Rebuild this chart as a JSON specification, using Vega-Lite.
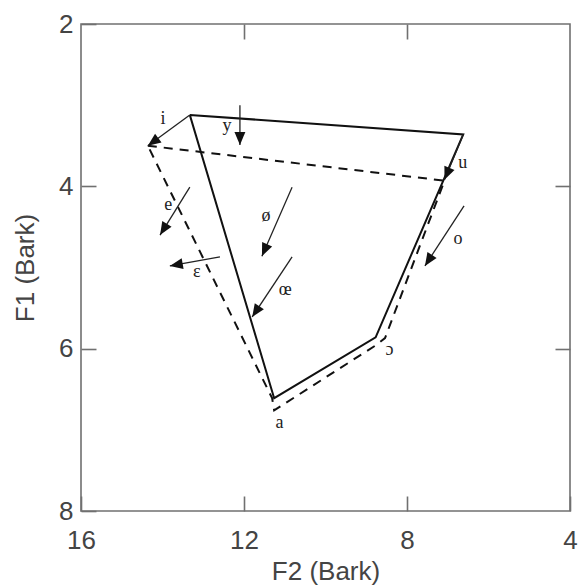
{
  "$schema": "https://vega.github.io/schema/vega-lite/v6.json",
  "width": 489,
  "height": 487,
  "autosize": "none",
  "padding": {"left": 81, "top": 24, "right": 9, "bottom": 76},
  "background": "white",
  "config": {
    "view": {"stroke": "#707070", "strokeWidth": 1.6},
    "axis": {
      "domain": false,
      "grid": false,
      "ticks": true,
      "tickSize": -15,
      "tickColor": "#707070",
      "tickWidth": 1.6,
      "labelFont": "Liberation Sans",
      "labelFontSize": 26,
      "labelColor": "#444444",
      "labelFlush": false,
      "labelOverlap": false,
      "labelBound": false,
      "titleFont": "Liberation Sans",
      "titleFontSize": 26,
      "titleFontWeight": "normal",
      "titleColor": "#444444"
    }
  },
  "datasets": {
    "solid": [
      {"F2": 13.33, "F1": 3.12, "o": 1},
      {"F2": 6.62, "F1": 3.36, "o": 2},
      {"F2": 8.77, "F1": 5.86, "o": 3},
      {"F2": 11.26, "F1": 6.61, "o": 4},
      {"F2": 13.33, "F1": 3.12, "o": 5}
    ],
    "dashed": [
      {"F2": 14.36, "F1": 3.50, "o": 1},
      {"F2": 7.08, "F1": 3.93, "o": 2},
      {"F2": 8.54, "F1": 5.87, "o": 3},
      {"F2": 8.74, "F1": 5.95, "o": 4},
      {"F2": 11.26, "F1": 6.76, "o": 5},
      {"F2": 11.31, "F1": 6.61, "o": 6},
      {"F2": 14.36, "F1": 3.50, "o": 7}
    ],
    "arrows": [
      {"v": "i", "F2s": 13.33, "F1s": 3.12, "F2e": 14.36, "F1e": 3.50},
      {"v": "y", "F2s": 12.10, "F1s": 3.00, "F2e": 12.10, "F1e": 3.49},
      {"v": "u", "F2s": 6.62, "F1s": 3.36, "F2e": 7.08, "F1e": 3.92},
      {"v": "e", "F2s": 13.33, "F1s": 4.01, "F2e": 14.06, "F1e": 4.60},
      {"v": "ε", "F2s": 12.59, "F1s": 4.87, "F2e": 13.82, "F1e": 4.98},
      {"v": "ø", "F2s": 10.82, "F1s": 4.01, "F2e": 11.56, "F1e": 4.86},
      {"v": "œ", "F2s": 10.82, "F1s": 4.87, "F2e": 11.80, "F1e": 5.61},
      {"v": "o", "F2s": 6.60, "F1s": 4.24, "F2e": 7.56, "F1e": 4.98}
    ],
    "labels": [
      {"v": "i", "F2": 13.99, "F1": 3.17},
      {"v": "y", "F2": 12.42, "F1": 3.26},
      {"v": "u", "F2": 6.63, "F1": 3.71},
      {"v": "e", "F2": 13.86, "F1": 4.23},
      {"v": "ε", "F2": 13.16, "F1": 5.05},
      {"v": "ø", "F2": 11.46, "F1": 4.37},
      {"v": "œ", "F2": 10.99, "F1": 5.28},
      {"v": "o", "F2": 6.75, "F1": 4.65},
      {"v": "a", "F2": 11.13, "F1": 6.92},
      {"v": "ɔ", "F2": 8.43, "F1": 6.02}
    ]
  },
  "layer": [
    {
      "data": {"name": "solid"},
      "mark": {"type": "line", "color": "#111111", "strokeWidth": 2},
      "encoding": {
        "x": {"field": "F2", "type": "quantitative", "scale": {"domain": [4, 16], "reverse": true, "nice": false, "zero": false},
              "axis": {"orient": "bottom", "values": [16, 12, 8, 4], "labelPadding": 31, "title": "F2 (Bark)", "titlePadding": 5}},
        "y": {"field": "F1", "type": "quantitative", "scale": {"domain": [2, 8], "reverse": true, "nice": false, "zero": false},
              "axis": {"orient": "left", "values": [2, 4, 6, 8], "labelPadding": 23, "title": "F1 (Bark)", "titlePadding": 20}},
        "order": {"field": "o", "type": "quantitative"}
      }
    },
    {
      "data": {"name": "dashed"},
      "mark": {"type": "line", "color": "#111111", "strokeWidth": 2, "strokeDash": [9, 7]},
      "encoding": {
        "x": {"field": "F2", "type": "quantitative",
              "axis": {"orient": "top", "values": [12, 8], "labels": false, "title": null}},
        "y": {"field": "F1", "type": "quantitative",
              "axis": {"orient": "right", "values": [4, 6], "labels": false, "title": null}},
        "order": {"field": "o", "type": "quantitative"}
      }
    },
    {
      "data": {"name": "arrows"},
      "mark": {"type": "rule", "color": "#222222", "strokeWidth": 1.3},
      "encoding": {
        "x": {"field": "F2s", "type": "quantitative", "axis": null},
        "y": {"field": "F1s", "type": "quantitative", "axis": null},
        "x2": {"field": "F2e"},
        "y2": {"field": "F1e"}
      }
    },
    {
      "data": {"name": "arrows"},
      "transform": [
        {"calculate": "(atan2((datum.F2s - datum.F2e) * 40.75, -(datum.F1e - datum.F1s) * 81.17) * 180 / PI + 360) % 360", "as": "ang"}
      ],
      "mark": {"type": "point", "shape": "M0,0 L-0.42,1 L0.42,1 Z", "filled": true, "color": "#111111", "opacity": 1, "size": 676, "strokeWidth": 0},
      "encoding": {
        "x": {"field": "F2e", "type": "quantitative", "axis": null},
        "y": {"field": "F1e", "type": "quantitative", "axis": null},
        "angle": {"field": "ang", "type": "quantitative", "scale": null}
      }
    },
    {
      "data": {"name": "labels"},
      "mark": {"type": "text", "font": "Liberation Serif", "fontSize": 18, "color": "#222222", "align": "center", "baseline": "middle"},
      "encoding": {
        "x": {"field": "F2", "type": "quantitative", "axis": null},
        "y": {"field": "F1", "type": "quantitative", "axis": null},
        "text": {"field": "v"}
      }
    }
  ],
  "resolve": {"axis": {"x": "independent", "y": "independent"}}
}
